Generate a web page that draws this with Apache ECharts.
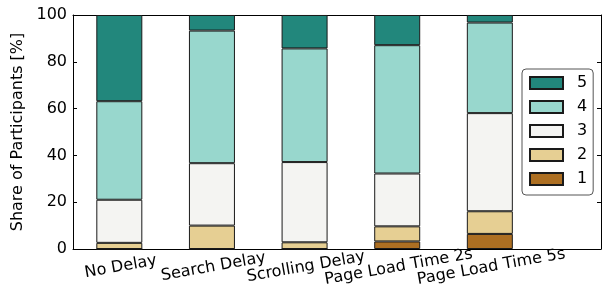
<!DOCTYPE html>
<html>
<head>
<meta charset="utf-8">
<script src="https://cdn.jsdelivr.net/npm/echarts@6/dist/echarts.min.js"></script>
<style>
  html, body { margin:0; padding:0; background:#fff; }
  #chart { width:606px; height:296px; }
</style>
</head>
<body>
<div id="chart"></div>
<script>
// categories on the x axis
var categories = ["No Delay", "Search Delay", "Scrolling Delay", "Page Load Time 2s", "Page Load Time 5s"];
// share of participants per rating [%]
var rating1 = [0, 0, 0, 3.23, 6.45];
var rating2 = [2.63, 10.0, 2.86, 6.45, 9.68];
var rating3 = [18.42, 26.67, 34.29, 22.58, 41.94];
var rating4 = [42.11, 56.67, 48.57, 54.84, 38.71];
var rating5 = [36.84, 6.67, 14.29, 12.90, 3.23];
var yTicks = [0, 20, 40, 60, 80, 100];

var colors = { "1": "#ad6f22", "2": "#e6cf93", "3": "#f4f4f2", "4": "#98d7cd", "5": "#22877c" };
var font = "DejaVu Sans";
var fs = 16;

function makeSeries(name, vals) {
  return {
    name: name,
    type: "bar",
    stack: "total",
    barWidth: 46,
    // value first so the stack goes on y
    encode: { x: 1, y: 0 },
    data: vals.map(function (v, i) { return [v, i]; }),
    itemStyle: { color: colors[name], borderColor: "#1a1a1a", borderWidth: 1 },
    emphasis: { disabled: true }
  };
}

var idx = categories.map(function (c, i) { return i; });

var chart = echarts.init(document.getElementById("chart"));
chart.setOption({
  animation: false,
  textStyle: { fontFamily: font },
  grid: { left: 73, right: 5, top: 15, bottom: 47, containLabel: false },
  legend: {
    data: ["5", "4", "3", "2", "1"],
    orient: "vertical",
    left: 522,
    top: 69,
    icon: "rect",
    itemWidth: 33,
    itemHeight: 12,
    itemGap: 8,
    padding: [6, 6, 8, 7],
    borderColor: "#555",
    borderWidth: 1,
    borderRadius: 4,
    backgroundColor: "#fff",
    textStyle: { fontFamily: font, fontSize: fs, lineHeight: 16, color: "#000", padding: [0, 0, 0, 9] }
  },
  xAxis: [
    {
      type: "value",
      min: -0.5,
      max: 5.2,
      position: "bottom",
      splitLine: { show: false },
      axisLine: { show: true, onZero: false, lineStyle: { color: "#000", width: 1 } },
      axisTick: { show: true, inside: true, length: 4, customValues: idx, lineStyle: { color: "#000" } },
      axisLabel: {
        customValues: idx,
        formatter: function (v) { return categories[Math.round(v)] || ""; },
        rotate: 10,
        align: "center",
        verticalAlign: "top",
        margin: 10,
        fontFamily: font,
        fontSize: fs,
        color: "#000"
      }
    },
    {
      type: "value",
      min: -0.5,
      max: 5.2,
      position: "top",
      splitLine: { show: false },
      axisLine: { show: true, onZero: false, lineStyle: { color: "#000", width: 1 } },
      axisTick: { show: true, inside: true, length: 4, customValues: idx, lineStyle: { color: "#000" } },
      axisLabel: { show: false }
    }
  ],
  yAxis: [
    {
      type: "value",
      min: 0,
      max: 100,
      interval: 20,
      position: "left",
      name: "Share of Participants [%]",
      nameLocation: "middle",
      nameGap: 44,
      nameTextStyle: { fontFamily: font, fontSize: fs, color: "#000" },
      splitLine: { show: false },
      axisLine: { show: true, onZero: false, lineStyle: { color: "#000", width: 1 } },
      axisTick: { show: true, inside: true, length: 4, customValues: yTicks, lineStyle: { color: "#000" } },
      axisLabel: { customValues: yTicks, margin: 6, fontFamily: font, fontSize: fs, color: "#000" }
    },
    {
      type: "value",
      min: 0,
      max: 100,
      interval: 20,
      position: "right",
      splitLine: { show: false },
      axisLine: { show: true, onZero: false, lineStyle: { color: "#000", width: 1 } },
      axisTick: { show: true, inside: true, length: 4, customValues: yTicks, lineStyle: { color: "#000" } },
      axisLabel: { show: false }
    }
  ],
  series: [
    makeSeries("1", rating1),
    makeSeries("2", rating2),
    makeSeries("3", rating3),
    makeSeries("4", rating4),
    makeSeries("5", rating5)
  ]
});
</script>
</body>
</html>
